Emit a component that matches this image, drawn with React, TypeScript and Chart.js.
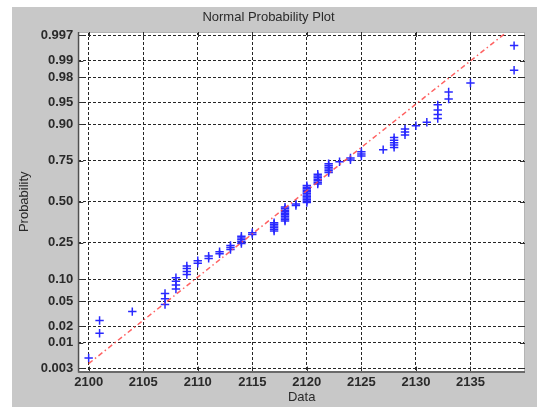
import React, { useEffect, useRef } from 'react';
import { Chart, registerables } from 'chart.js';

Chart.register(...registerables);

// Sample values (unique, sorted) and how many times each appears
const sampleValues = [2100, 2101, 2104, 2107, 2108, 2109, 2110, 2111, 2112, 2113, 2114, 2115, 2117, 2118, 2119, 2120, 2121, 2122, 2123, 2124, 2125, 2127, 2128, 2129, 2130, 2131, 2132, 2133, 2135, 2139];
const sampleCounts = [1, 2, 1, 3, 4, 4, 2, 2, 2, 3, 5, 2, 6, 10, 2, 12, 7, 6, 1, 2, 3, 1, 5, 3, 1, 1, 4, 2, 1, 2];

const probTickLabels = ['0.003', '0.01', '0.02', '0.05', '0.10', '0.25', '0.50', '0.75', '0.90', '0.95', '0.98', '0.99', '0.997'];
const xTickValues = [2100, 2105, 2110, 2115, 2120, 2125, 2130, 2135];

// Reference line end points
const refLineX = [2100, 2138.3];
const refLineProb = [0.0038, 0.9974];

const xLimits = [2099.05, 2140.0];
const zLimits = [-2.8, 2.8];

// Inverse standard normal CDF (probability axis transform)
function invNorm(p: number): number {
  const a = [-3.969683028665376e1, 2.209460984245205e2, -2.759285104469687e2, 1.38357751867269e2, -3.066479806614716e1, 2.506628277459239];
  const b = [-5.447609879822406e1, 1.615858368580409e2, -1.556989798598866e2, 6.680131188771972e1, -1.328068155288572e1];
  const c = [-7.784894002430293e-3, -3.223964580411365e-1, -2.400758277161838, -2.549732539343734, 4.374664141464968, 2.938163982698783];
  const d = [7.784695709041462e-3, 3.224671290700398e-1, 2.445134137142996, 3.754408661907416];
  const pLow = 0.02425;
  let q: number, r: number;
  if (p < pLow) {
    q = Math.sqrt(-2 * Math.log(p));
    return (((((c[0] * q + c[1]) * q + c[2]) * q + c[3]) * q + c[4]) * q + c[5]) / ((((d[0] * q + d[1]) * q + d[2]) * q + d[3]) * q + 1);
  }
  if (p <= 1 - pLow) {
    q = p - 0.5;
    r = q * q;
    return ((((((a[0] * r + a[1]) * r + a[2]) * r + a[3]) * r + a[4]) * r + a[5]) * q) / (((((b[0] * r + b[1]) * r + b[2]) * r + b[3]) * r + b[4]) * r + 1);
  }
  q = Math.sqrt(-2 * Math.log(1 - p));
  return -(((((c[0] * q + c[1]) * q + c[2]) * q + c[3]) * q + c[4]) * q + c[5]) / ((((d[0] * q + d[1]) * q + d[2]) * q + d[3]) * q + 1);
}

const FONT = 'Liberation Sans, Arial, Helvetica, sans-serif';

const framePlugin = {
  id: 'matlabFrame',
  beforeDraw(chart: any) {
    const { ctx, chartArea: a, width, height } = chart;
    ctx.save();
    ctx.fillStyle = '#c8c8c8';
    ctx.fillRect(0, 0, width, height);
    ctx.fillStyle = '#ffffff';
    ctx.fillRect(a.left, a.top, a.right - a.left, a.bottom - a.top);
    ctx.restore();
  },
  afterDraw(chart: any) {
    const { ctx, chartArea: a, scales } = chart;
    ctx.save();
    // light box on top/right
    ctx.strokeStyle = '#b4b4b4';
    ctx.lineWidth = 1;
    ctx.beginPath();
    ctx.moveTo(a.left, a.top + 0.5);
    ctx.lineTo(a.right, a.top + 0.5);
    ctx.moveTo(a.right - 0.5, a.top);
    ctx.lineTo(a.right - 0.5, a.bottom);
    ctx.stroke();
    // inward ticks
    ctx.strokeStyle = '#303030';
    ctx.beginPath();
    scales.y.ticks.forEach((t: any) => {
      const py = Math.round(scales.y.getPixelForValue(t.value)) + 0.5;
      ctx.moveTo(a.left, py);
      ctx.lineTo(a.left + 5, py);
      ctx.moveTo(a.right, py);
      ctx.lineTo(a.right - 5, py);
    });
    scales.x.ticks.forEach((t: any) => {
      const px = Math.round(scales.x.getPixelForValue(t.value)) + 0.5;
      ctx.moveTo(px, a.bottom);
      ctx.lineTo(px, a.bottom - 5);
      ctx.moveTo(px, a.top);
      ctx.lineTo(px, a.top + 5);
    });
    ctx.stroke();
    // left & bottom axis lines
    ctx.strokeStyle = '#505050';
    ctx.lineWidth = 1.5;
    ctx.beginPath();
    ctx.moveTo(a.left + 0.25, a.top);
    ctx.lineTo(a.left + 0.25, a.bottom + 1);
    ctx.stroke();
    ctx.strokeStyle = '#6a6a6a';
    ctx.lineWidth = 2;
    ctx.beginPath();
    ctx.moveTo(a.left, a.bottom + 0.5);
    ctx.lineTo(a.right, a.bottom + 0.5);
    ctx.stroke();
    ctx.restore();
  },
};

export default function App() {
  const canvasRef = useRef<HTMLCanvasElement | null>(null);

  useEffect(() => {
    if (!canvasRef.current) return;
    const sorted: number[] = [];
    sampleValues.forEach((v, i) => {
      for (let k = 0; k < sampleCounts[i]; k++) sorted.push(v);
    });
    const n = sorted.length;
    const points = sorted.map((v, i) => ({ x: v, y: invNorm((i + 0.5) / n) }));
    const linePts = refLineX.map((x, i) => ({ x, y: invNorm(refLineProb[i]) }));

    const chart = new Chart(canvasRef.current, {
      type: 'scatter',
      data: {
        datasets: [
          {
            label: 'Reference',
            data: linePts,
            showLine: true,
            borderColor: 'rgba(255, 70, 70, 0.85)',
            borderWidth: 1.5,
            borderDash: [5, 3, 1.5, 3],
            pointRadius: 0,
            fill: false,
          } as any,
          {
            label: 'Data',
            data: points,
            pointStyle: 'cross',
            pointRadius: 4.2,
            pointBorderWidth: 1.5,
            borderColor: 'rgb(40, 40, 255)',
            backgroundColor: 'rgb(40, 40, 255)',
            showLine: false,
          } as any,
        ],
      },
      options: {
        animation: false,
        responsive: false,
        events: [],
        layout: { padding: { left: 0, right: 12, top: 0, bottom: 0 } },
        plugins: {
          legend: { display: false },
          tooltip: { enabled: false },
          title: {
            display: true,
            text: 'Normal Probability Plot',
            color: '#2a2a2a',
            font: { family: FONT, size: 13, weight: 'normal' },
            padding: { top: 2.6, bottom: 6.8 },
          },
        },
        scales: {
          x: {
            type: 'linear',
            min: xLimits[0],
            max: xLimits[1],
            afterBuildTicks: (scale: any) => {
              scale.ticks = xTickValues.map((v) => ({ value: v }));
            },
            afterFit: (scale: any) => {
              scale.height = 35.5;
            },
            ticks: {
              autoSkip: false,
              maxRotation: 0,
              padding: 3.3,
              color: '#2a2a2a',
              font: { family: FONT, size: 13, weight: 'bold' },
              callback: (v: any) => String(v),
            },
            grid: { color: '#262626', lineWidth: 1, drawTicks: false },
            border: { display: false, dash: [3, 2] },
            title: {
              display: true,
              text: 'Data',
              color: '#2a2a2a',
              font: { family: FONT, size: 13 },
              padding: { top: 0, bottom: 1.7 },
            },
          },
          y: {
            type: 'linear',
            min: zLimits[0],
            max: zLimits[1],
            afterBuildTicks: (scale: any) => {
              scale.ticks = probTickLabels.map((l) => ({ value: invNorm(parseFloat(l)) }));
            },
            afterFit: (scale: any) => {
              scale.width = 66.3;
            },
            ticks: {
              autoSkip: false,
              padding: 5,
              color: '#2a2a2a',
              font: { family: FONT, size: 13, weight: 'bold' },
              callback: (v: any) => {
                let best = probTickLabels[0];
                let bd = Infinity;
                probTickLabels.forEach((l) => {
                  const dd = Math.abs(invNorm(parseFloat(l)) - v);
                  if (dd < bd) {
                    bd = dd;
                    best = l;
                  }
                });
                return best;
              },
            },
            grid: { color: '#262626', lineWidth: 1, drawTicks: false },
            border: { display: false, dash: [3, 2] },
            title: {
              display: true,
              text: 'Probability',
              color: '#2a2a2a',
              font: { family: FONT, size: 13 },
              padding: { top: 4.9, bottom: 0 },
            },
          },
        },
      },
      plugins: [framePlugin],
    });
    return () => chart.destroy();
  }, []);

  return (
    <div style={{ position: 'fixed', left: 0, top: 0, width: 537, height: 407, background: '#ffffff' }}>
      <canvas ref={canvasRef} width={525} height={400} style={{ position: 'absolute', left: 12, top: 7 }} />
    </div>
  );
}
